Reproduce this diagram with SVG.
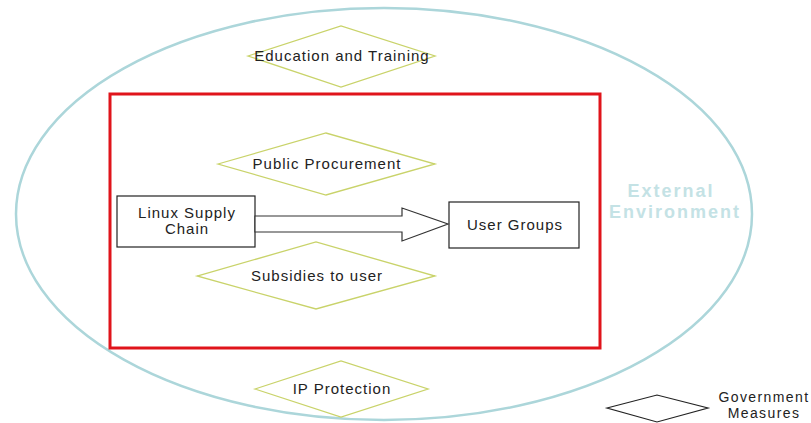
<svg xmlns="http://www.w3.org/2000/svg" width="811" height="423" viewBox="0 0 811 423">
<style>
.t{font-family:"Liberation Sans",Arial,sans-serif;font-size:15px;letter-spacing:1px;fill:#222;text-anchor:middle}
.lg{font-family:"Liberation Sans",Arial,sans-serif;font-size:14px;letter-spacing:1.4px;fill:#222;text-anchor:middle}
.gm{fill:#fff;stroke:#c9d36a;stroke-width:1.3}
.box{fill:#fff;stroke:#222;stroke-width:1.2}
.env{font-family:"Liberation Sans",Arial,sans-serif;font-size:18px;letter-spacing:2px;font-weight:bold;fill:#c4e2e5;text-anchor:middle}
</style>
<rect width="811" height="423" fill="#fff"/>
<g id="external-environment">
<ellipse cx="384" cy="214" rx="368" ry="206" fill="none" stroke="#acd6da" stroke-width="2.5"/>
<text class="env" x="671" y="197">External</text>
<text class="env" x="675" y="218">Environment</text>
</g>
<g id="system-boundary">
<rect x="110" y="94" width="490" height="254" fill="none" stroke="#e0141b" stroke-width="3"/>
</g>
<g id="education">
<polygon class="gm" points="248,56 341,26 435,56 341,87"/>
<text class="t" x="342" y="61">Education and Training</text>
</g>
<g id="procurement">
<polygon class="gm" points="218,164 326,133 435,164 326,195"/>
<text class="t" x="327" y="169">Public Procurement</text>
</g>
<g id="subsidies">
<polygon class="gm" points="197,276 316,242 435,276 316,309"/>
<text class="t" x="317" y="281">Subsidies to user</text>
</g>
<g id="ip">
<polygon class="gm" points="255,389 341,361 428,389 341,417"/>
<text class="t" x="342" y="394">IP Protection</text>
</g>
<g id="linux">
<rect class="box" x="117" y="196" width="138" height="51"/>
<text class="t" x="187" y="218">Linux Supply</text>
<text class="t" x="187" y="234">Chain</text>
</g>
<g id="users">
<rect class="box" x="449" y="202" width="130" height="46"/>
<text class="t" x="515" y="230">User Groups</text>
</g>
<g id="connectors">
<polygon points="255,216 402,216 402,208 448,224 402,241 402,232 255,232" fill="#fff" stroke="#333" stroke-width="1.2"/>
</g>
<g id="legend">
<polygon points="607,408 657,395 708,408 657,422" fill="#fff" stroke="#222" stroke-width="1.2"/>
<text class="lg" x="764" y="402">Government</text>
<text class="lg" x="764" y="418">Measures</text>
</g>
</svg>
